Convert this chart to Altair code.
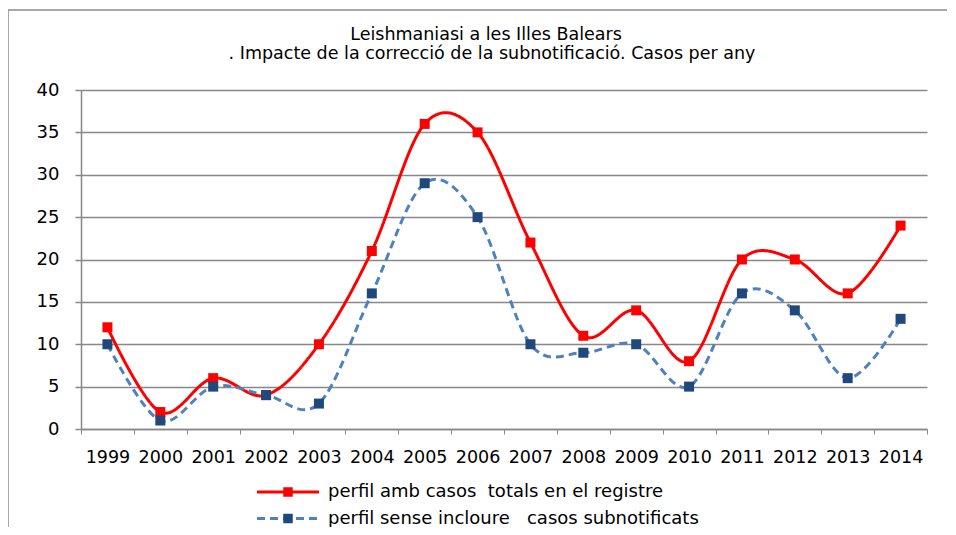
import altair as alt
import pandas as pd

years = ["1999", "2000", "2001", "2002", "2003", "2004", "2005", "2006",
         "2007", "2008", "2009", "2010", "2011", "2012", "2013", "2014"]
totals = [12, 2, 6, 4, 10, 21, 36, 35, 22, 11, 14, 8, 20, 20, 16, 24]
sense = [10, 1, 5, 4, 3, 16, 29, 25, 10, 9, 10, 5, 16, 14, 6, 13]
series_names = ["perfil amb casos\u00a0 totals en el registre",
                "perfil sense incloure\u00a0\u00a0 casos subnotificats"]
marker_keys = ["marcador total", "marcador sense"]
line_colors = ["#FF0000", "#4F81BD"]
marker_colors = ["#FF0000", "#1F497D"]
dashes = [[1, 0], [8, 5]]
y_ticks = [0, 5, 10, 15, 20, 25, 30, 35, 40]
title_line1 = "Leishmaniasi a les Illes Balears"
title_line2 = ". Impacte de la correcció de la subnotificació. Casos per any"

rows = []
for yr, a, b in zip(years, totals, sense):
    rows.append({"any": yr, "casos": a, "serie": series_names[0], "serieB": marker_keys[0]})
    rows.append({"any": yr, "casos": b, "serie": series_names[1], "serieB": marker_keys[1]})
df = pd.DataFrame(rows)

FONT = "DejaVu Sans"
GRID = "#888888"
FRAME = "#8a8a8a"

x = alt.X("any:O", sort=years,
          scale=alt.Scale(type="band", paddingInner=0, paddingOuter=0),
          bandPosition=0.5,
          axis=alt.Axis(title=None, labelAngle=0, tickBand="extent", tickSize=5,
                        labelPadding=14, labelFontSize=17.5, labelFont=FONT,
                        labelColor="#000000", domainColor=GRID, tickColor=GRID,
                        labelOverlap=False, grid=False, domainWidth=1.5))
y = alt.Y("casos:Q", scale=alt.Scale(domain=[0, 40], nice=False),
          axis=alt.Axis(title=None, values=y_ticks, tickSize=6, labelPadding=16,
                        labelFontSize=18, labelFont=FONT, labelColor="#000000",
                        grid=True, gridColor=GRID, gridWidth=1.5, domainColor=GRID,
                        tickColor=GRID, domainWidth=1.5, tickWidth=1.5))

legA = alt.Legend(title=None, orient="none", legendX=198, legendY=393,
                  symbolType="M-6.2,0H6.2", symbolSize=100, symbolStrokeWidth=3,
                  labelFont=FONT, labelFontSize=18, labelColor="#000000",
                  labelLimit=700, labelOffset=31, rowPadding=8.5, padding=0, zindex=1)
legB = alt.Legend(title=None, orient="none", legendX=198, legendY=393,
                  symbolType="M-0.95,-0.95H0.95V0.95H-0.95Z", symbolSize=100,
                  symbolStrokeWidth=0, labelFont=FONT, labelFontSize=18,
                  labelExpr="''", labelOffset=31, rowPadding=8.5,
                  padding=0, zindex=2)

lines = alt.Chart(df).mark_line(interpolate="cardinal", strokeWidth=3).encode(
    x=x, y=y,
    stroke=alt.Stroke("serie:N", scale=alt.Scale(domain=series_names, range=line_colors), legend=legA),
    strokeDash=alt.StrokeDash("serie:N", scale=alt.Scale(domain=series_names, range=dashes), legend=legA),
)
points = alt.Chart(df).mark_square(size=100, filled=True, opacity=1).encode(
    x=x, y=y,
    fill=alt.Fill("serieB:N", scale=alt.Scale(domain=marker_keys, range=marker_colors), legend=legB),
)

frame_data = pd.DataFrame({"k": [0]})
frame_left = alt.Chart(frame_data).mark_rule(color=FRAME, strokeWidth=1.5).encode(
    x=alt.value(-73), y=alt.value(-80), y2=alt.value(700))
frame_top = alt.Chart(frame_data).mark_rule(color=FRAME, strokeWidth=1.5).encode(
    x=alt.value(-73), x2=alt.value(1200), y=alt.value(-80))
title1 = alt.Chart(frame_data).mark_text(
    text=title_line1, font=FONT, fontSize=17.5, color="#000000", align="center",
    baseline="alphabetic").encode(x=alt.value(405), y=alt.value(-50))
title2 = alt.Chart(frame_data).mark_text(
    text=title_line2, font=FONT, fontSize=17.5, color="#000000", align="center",
    baseline="alphabetic").encode(x=alt.value(411), y=alt.value(-31))

chart = alt.layer(frame_left, frame_top, title1, title2, lines, points).properties(
    width=846, height=339,
    autosize=alt.AutoSizeParams(type="none"),
    padding={"left": 73, "top": 82, "right": 20, "bottom": 98},
).configure_view(stroke=None)

chart.save("out.html", embed_options={"renderer": "svg", "actions": False})
